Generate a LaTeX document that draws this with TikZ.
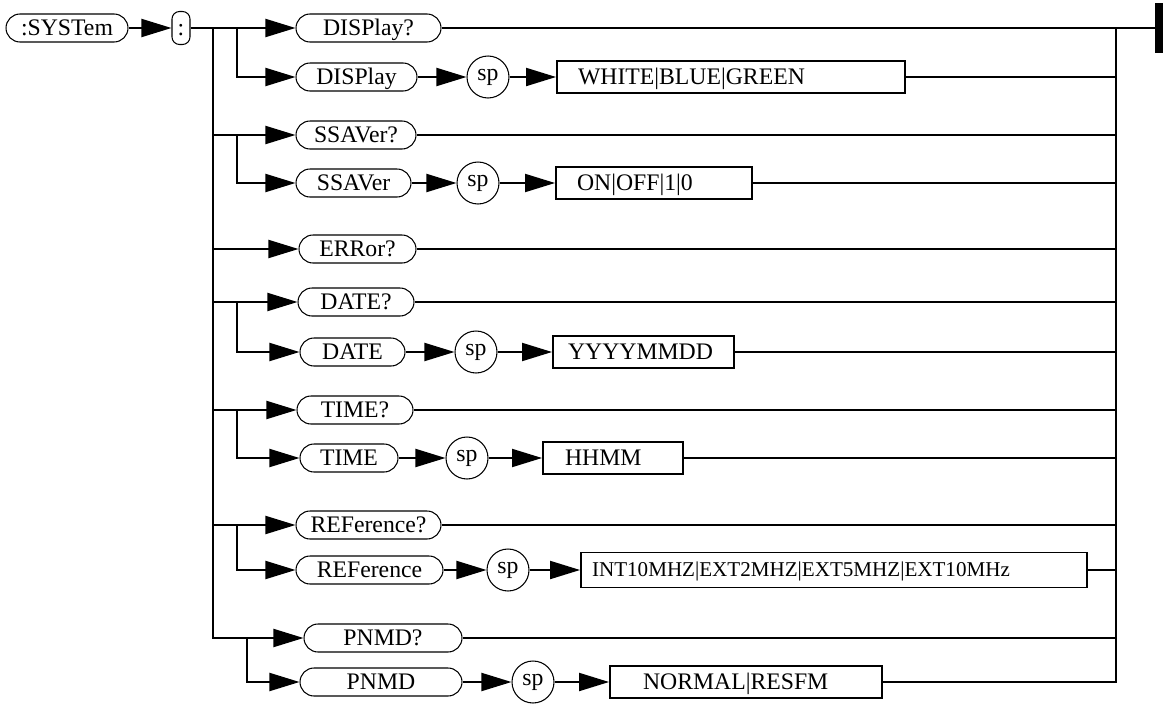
\documentclass[tikz,border=0pt]{standalone}
\usepackage{fontspec}
\setmainfont{Liberation Serif}
\usetikzlibrary{arrows.meta}

\begin{document}
\begin{tikzpicture}[
    x=0.02cm, y=-0.02cm,
    font=\fontsize{13.5}{16}\selectfont,
    pill/.style={rectangle, draw, rounded corners=0.28cm, minimum height=0.56cm, inner sep=0pt, text height=8.9pt, text depth=0pt, line width=0.6pt},
    spc/.style={circle, draw, minimum size=0.84cm, inner sep=0pt, line width=0.6pt},
    valbox/.style={rectangle, draw, minimum height=0.64cm, inner ysep=0pt, align=left, text height=8.9pt, text depth=0pt, line width=1.1pt},
    arr/.style={-{Triangle[length=0.6cm, width=0.36cm]}, line width=1.1pt},
    wire/.style={line width=1.1pt},
  ]
    \useasboundingbox (0,0) rectangle (1167,710);

    \node[pill, minimum width=2.44cm] (sys) at (67,28) {:SYSTem};
    \node[pill, rounded corners=0.15cm, minimum width=0.36cm, minimum height=0.66cm] (colon) at (181,28) {:};
    \node[fill, minimum width=0.16cm, minimum height=1cm, inner sep=0pt] (stop) at (1159,28) {};

    \coordinate (tx) at (213,0);
    \coordinate (bx) at (237,0);
    \coordinate (bx2) at (247,0);
    \coordinate (rx) at (1116,0);

    % DISPlay
    \node[pill, minimum width=2.9cm] (dispq) at (368.5,28) {DISPlay?};
    \node[pill, minimum width=2.42cm] (disp) at (356.5,77) {DISPlay};
    \node[spc] (sp1) at (488,77) {sp};
    \node[valbox, inner xsep=0.42cm, text width=6.12cm] (val1) at (731,77) {WHITE|BLUE|GREEN};

    % SSAVer
    \node[pill, minimum width=2.4cm] (ssavq) at (356,135) {SSAVer?};
    \node[pill, minimum width=2.3cm] (ssav) at (353.5,183) {SSAVer};
    \node[spc] (sp2) at (478,183) {sp};
    \node[valbox, inner xsep=0.42cm, text width=3.08cm] (val2) at (654,183) {ON|OFF|1|0};

    % ERRor
    \node[pill, minimum width=2.34cm] (errq) at (357.5,249) {ERRor?};

    % DATE
    \node[pill, minimum width=2.32cm] (dateq) at (356,302) {DATE?};
    \node[pill, minimum width=2.1cm] (date) at (352.5,352) {DATE};
    \node[spc] (sp3) at (476,352) {sp};
    \node[valbox, inner xsep=0.3cm, text width=3.02cm] (val3) at (643.5,352) {YYYYMMDD};

    % TIME
    \node[pill, minimum width=2.32cm] (timeq) at (355,410) {TIME?};
    \node[pill, minimum width=1.96cm] (time) at (349,458) {TIME};
    \node[spc] (sp4) at (467,458) {sp};
    \node[valbox, inner xsep=0.44cm, text width=1.92cm] (val4) at (613,458) {HHMM};

    % REFerence
    \node[pill, minimum width=2.9cm] (refq) at (368.5,525) {REFerence?};
    \node[pill, minimum width=2.94cm] (ref) at (369.5,570) {REFerence};
    \node[spc] (sp5) at (508,570) {sp};
    \node[valbox, inner xsep=0.22cm, text width=9.68cm, minimum height=0.7cm, text height=7.9pt, font=\fontsize{12}{14}\selectfont] (val5) at (834,570) {INT10MHZ|EXT2MHZ|EXT5MHZ|EXT10MHz};

    % PNMD
    \node[pill, minimum width=3.16cm] (pnmdq) at (383,638) {PNMD?};
    \node[pill, minimum width=3.24cm] (pnmd) at (381,682) {PNMD};
    \node[spc] (sp6) at (533,682) {sp};
    \node[valbox, inner xsep=0.66cm, text width=4.12cm] (val6) at (746,682) {NORMAL|RESFM};

    % trunk and branches
    \draw[arr] (sys) -- (colon);
    \draw[arr] (colon) -- (dispq);
    \draw[arr] (tx |- dispq) |- (pnmdq);
    \draw[arr] (tx |- ssavq) -- (ssavq);
    \draw[arr] (tx |- errq) -- (errq);
    \draw[arr] (tx |- dateq) -- (dateq);
    \draw[arr] (tx |- timeq) -- (timeq);
    \draw[arr] (tx |- refq) -- (refq);
    \draw[arr] (bx |- dispq) |- (disp);
    \draw[arr] (bx |- ssavq) |- (ssav);
    \draw[arr] (bx |- dateq) |- (date);
    \draw[arr] (bx |- timeq) |- (time);
    \draw[arr] (bx |- refq) |- (ref);
    \draw[arr] (bx2 |- pnmdq) |- (pnmd);

    % rows
    \draw[arr] (disp) -- (sp1);
    \draw[arr] (sp1) -- (val1);
    \draw[arr] (ssav) -- (sp2);
    \draw[arr] (sp2) -- (val2);
    \draw[arr] (date) -- (sp3);
    \draw[arr] (sp3) -- (val3);
    \draw[arr] (time) -- (sp4);
    \draw[arr] (sp4) -- (val4);
    \draw[arr] (ref) -- (sp5);
    \draw[arr] (sp5) -- (val5);
    \draw[arr] (pnmd) -- (sp6);
    \draw[arr] (sp6) -- (val6);

    % collector
    \draw[wire] (dispq) -- (stop);
    \draw[wire] (rx |- dispq) |- (val6);
    \draw[wire] (val1) -- (rx |- val1);
    \draw[wire] (ssavq) -- (rx |- ssavq);
    \draw[wire] (val2) -- (rx |- val2);
    \draw[wire] (errq) -- (rx |- errq);
    \draw[wire] (dateq) -- (rx |- dateq);
    \draw[wire] (val3) -- (rx |- val3);
    \draw[wire] (timeq) -- (rx |- timeq);
    \draw[wire] (val4) -- (rx |- val4);
    \draw[wire] (refq) -- (rx |- refq);
    \draw[wire] (val5) -- (rx |- val5);
    \draw[wire] (pnmdq) -- (rx |- pnmdq);
  \end{tikzpicture}
\end{document}
